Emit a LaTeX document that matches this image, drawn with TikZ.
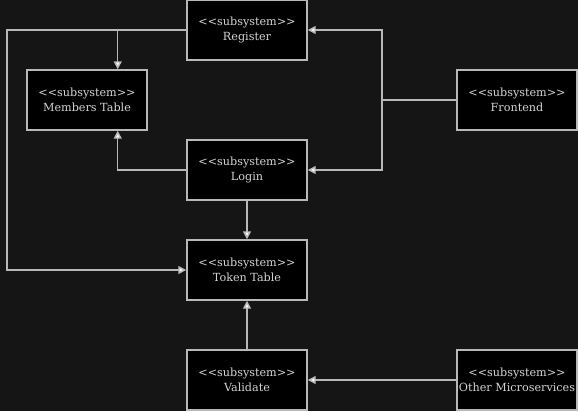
\documentclass[tikz,border=0pt]{standalone}
\usepackage{fontspec}
\setmainfont{DejaVu Serif}
\usepackage{tikz}
\usetikzlibrary{positioning, arrows.meta}

\definecolor{bgdark}{HTML}{151515}
\definecolor{linegray}{HTML}{B8B8B8}
\definecolor{textgray}{HTML}{D4D4D4}
\newcommand{\stereo}{{<}{<}subsystem{>}{>}}

\begin{document}
\begin{tikzpicture}[
    x=0.75pt, y=-0.75pt,
    box/.style={draw=linegray, line width=1.1pt, fill=black, minimum height=45pt, minimum width=90pt,
        align=center, inner sep=0pt, text=textgray, font=\fontsize{8.4}{11.2}\selectfont},
    arrow/.style={-{Triangle[length=6pt, width=6pt, fill=white]}, draw=linegray, line width=1.1pt}
]
\useasboundingbox[fill=bgdark] (0,0) rectangle (578,411);
\node[box] (reg) at (247,30) {\stereo\\Register};
\node[box] (mem) at (87,100) {\stereo\\Members Table};
\node[box] (front) at (517,100) {\stereo\\Frontend};
\node[box] (login) at (247,170) {\stereo\\Login};
\node[box] (token) at (247,270) {\stereo\\Token Table};
\node[box] (valid) at (247,380) {\stereo\\Validate};
\node[box] (other) at (517,380) {\stereo\\Other Microservices};
\coordinate (frontsplit) at (382,100);
\coordinate (leftrail) at (7,30);
% register
\draw[arrow] (reg.west) -| ([xshift=-22.5pt]mem.north east);
\draw[arrow] (reg.west) -- (leftrail) |- (token.west);
% frontend
\draw[arrow] (front.west) -- (frontsplit) |- (reg.east);
\draw[arrow] (front.west) -- (frontsplit) |- (login.east);
% login
\draw[arrow] (login.west) -| ([xshift=-22.5pt]mem.south east);
\draw[arrow] (login.south) -- (token.north);
% validate
\draw[arrow] (valid.north) -- (token.south);
\draw[arrow] (other.west) -- (valid.east);
\end{tikzpicture}
\end{document}
